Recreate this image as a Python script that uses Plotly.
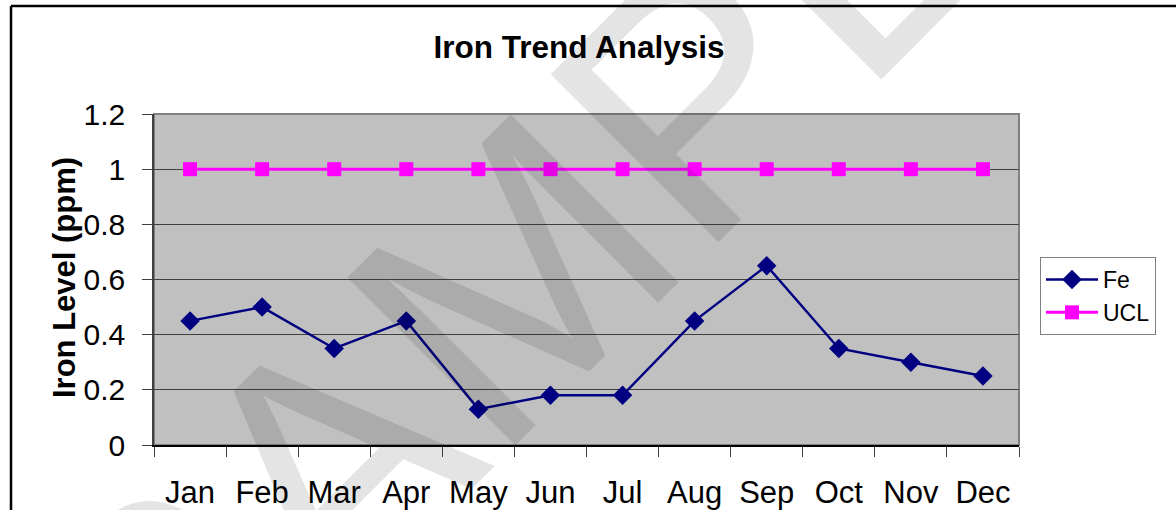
import plotly.graph_objects as go

months = ["Jan", "Feb", "Mar", "Apr", "May", "Jun", "Jul", "Aug", "Sep", "Oct", "Nov", "Dec"]
fe = [0.45, 0.50, 0.35, 0.45, 0.13, 0.18, 0.18, 0.45, 0.65, 0.35, 0.30, 0.25]
ucl = [1, 1, 1, 1, 1, 1, 1, 1, 1, 1, 1, 1]
y_ticks = [0, 0.2, 0.4, 0.6, 0.8, 1, 1.2]

FONT = "Liberation Sans, Arial, sans-serif"

W, H = 1176, 510
# plot area in window pixels
X0, X1, Y0, Y1 = 154, 1019, 114, 445
pw, ph = X1 - X0, Y1 - Y0


def px(x):
    return (x - X0) / pw


def py(y):
    return (Y1 - y) / ph


fig = go.Figure()

fig.add_trace(go.Scatter(
    x=months, y=fe, name="Fe", mode="lines+markers",
    line=dict(color="#000080", width=2.5),
    marker=dict(symbol="diamond", size=15, color="#000080"),
))
fig.add_trace(go.Scatter(
    x=months, y=ucl, name="UCL", mode="lines+markers",
    line=dict(color="#FF00FF", width=3),
    marker=dict(symbol="square", size=14, color="#FF00FF"),
))

fig.update_layout(
    width=W, height=H,
    margin=dict(l=X0, r=W - X1, t=Y0, b=H - Y1, autoexpand=False),
    paper_bgcolor="white",
    plot_bgcolor="#C0C0C0",
    font=dict(family=FONT, color="black"),
    title=dict(text="<b>Iron Trend Analysis</b>", x=px(579), xref="paper", xanchor="center",
               y=1 - 47 / H, yanchor="middle", font=dict(size=31.5, family=FONT)),
    showlegend=True,
    legend=dict(x=px(1040), y=py(257), xanchor="left", yanchor="top",
                bgcolor="white", bordercolor="#808080", borderwidth=1,
                font=dict(size=23, family=FONT), tracegroupgap=0, itemwidth=52),
    xaxis=dict(type="category", range=[-0.5, 11.5], showgrid=False,
               ticks="outside", tickson="boundaries", ticklen=10, tickcolor="#404040",
               showline=True, linecolor="black", linewidth=2,
               tickfont=dict(size=31, family=FONT), ticklabelstandoff=19),
    yaxis=dict(range=[0, 1.2], tickvals=y_ticks, ticktext=["0", "0.2", "0.4", "0.6", "0.8", "1", "1.2"],
               showgrid=True, gridcolor="#404040", gridwidth=1, zeroline=False,
               ticks="outside", ticklen=10, tickcolor="#404040",
               showline=True, linecolor="#404040", linewidth=1.5,
               tickfont=dict(size=30, family=FONT), ticklabelstandoff=11),
)

# plot area border (top and right, grey)
fig.add_shape(type="rect", xref="paper", yref="paper", x0=0, y0=0, x1=1, y1=1,
              line=dict(color="#808080", width=2), layer="below")

# outer chart frame (left and top edges visible)
fig.add_shape(type="line", xref="paper", yref="paper", x0=px(11), y0=py(600), x1=px(11), y1=py(6),
              line=dict(color="black", width=2.5))
fig.add_shape(type="line", xref="paper", yref="paper", x0=px(11), y0=py(6), x1=px(1300), y1=py(6),
              line=dict(color="black", width=2.5))

fig.add_annotation(text="<b>Iron Level (ppm)</b>", textangle=-90, xref="paper", yref="paper",
                   x=px(64), y=py(278), xanchor="center", yanchor="middle", showarrow=False,
                   font=dict(size=31, family=FONT))

# watermark
fig.add_annotation(text="SAMPLE", textangle=-45, xref="paper", yref="paper",
                   x=px(580), y=py(211), xanchor="center", yanchor="middle", showarrow=False,
                   font=dict(size=345, family=FONT, color="rgba(0,0,0,0.105)"))

# drop the page's default body margin so the figure sits at the window origin
fig.write_html("out.html", config={"displayModeBar": False},
               post_script="document.body.style.margin='0';")
